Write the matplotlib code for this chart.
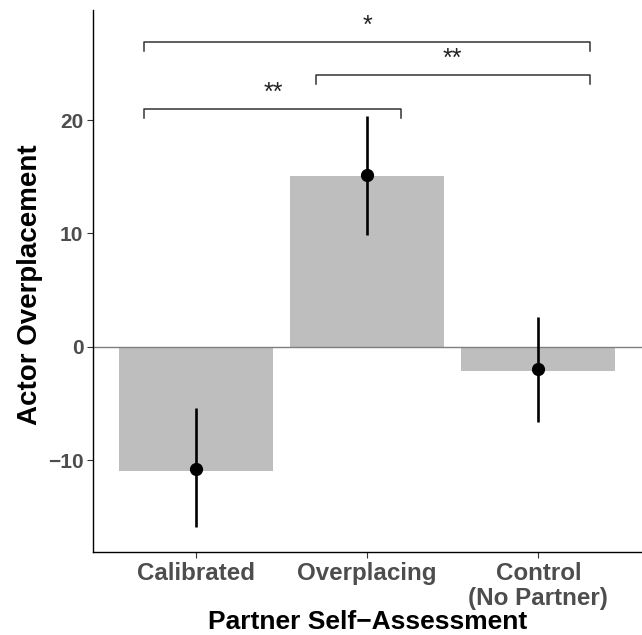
import matplotlib
matplotlib.use("Agg")
import matplotlib.pyplot as plt

categories = ["Calibrated", "Overplacing", "Control\n(No Partner)"]
bar_values = [-10.94, 15.09, -2.12]
point_values = [-10.82, 15.15, -1.97]
err_low = [-15.92, 9.86, -6.62]
err_high = [-5.41, 20.36, 2.62]

# significance brackets: (x_start, x_end, y, label)
brackets = [
    (-0.3, 1.2, 20.98, "**"),
    (0.7, 2.3, 23.98, "**"),
    (-0.3, 2.3, 26.92, "*"),
]
tick_drop = 0.8

plt.rcParams['font.family'] = ['Liberation Sans', 'DejaVu Sans']

W, H = 642, 635
fig = plt.figure(figsize=(W / 100, H / 100), dpi=100)
ax = fig.add_axes([93/W, 83/H, 1 - 93/W, (552 - 10)/H])

x = list(range(len(categories)))
ax.bar(x, bar_values, width=0.9, color="#BEBEBE", zorder=1)
ax.axhline(0, color="#7F7F7F", lw=1.0, zorder=2)
for xi, lo, hi in zip(x, err_low, err_high):
    ax.plot([xi, xi], [lo, hi], color="black", lw=1.9, zorder=3, solid_capstyle='butt')
ax.plot(x, point_values, 'o', color="black", ms=8.5, zorder=4)

for x0, x1, y, lab in brackets:
    ax.plot([x0, x0, x1, x1], [y - tick_drop, y, y, y - tick_drop],
            color="#333333", lw=1.1, zorder=3)
    ax.text((x0 + x1) / 2, y + 0.8, lab, ha='center', va='baseline',
            fontsize=18, color="#222222")

ax.set_xlim(-0.6, 2.605)
ax.set_ylim(-18.12, 29.72)
ax.set_xticks(x)
ax.set_xticklabels(categories, fontsize=17.4, fontweight='bold', color="#4D4D4D",
                   linespacing=1.1)
ax.set_yticks([-10, 0, 10, 20])
ax.set_yticklabels(["\u221210", "0", "10", "20"], fontsize=15, fontweight='bold',
                   color="#4D4D4D")
ax.tick_params(axis='both', length=4, width=0.8, color="#333333", pad=3)

for s in ["top", "right"]:
    ax.spines[s].set_visible(False)
for s in ["left", "bottom"]:
    ax.spines[s].set_color("black")
    ax.spines[s].set_linewidth(1.0)

fig.text(367.5 / W, 6 / H, "Partner Self\u2212Assessment", fontsize=19,
         fontweight='bold', color="black", ha='center', va='baseline')
fig.text(37 / W, 1 - 284.5 / H, "Actor Overplacement", fontsize=20,
         fontweight='bold', color="black", rotation=90, rotation_mode='anchor',
         ha='center', va='baseline')

fig.savefig("out.png", dpi=100)
